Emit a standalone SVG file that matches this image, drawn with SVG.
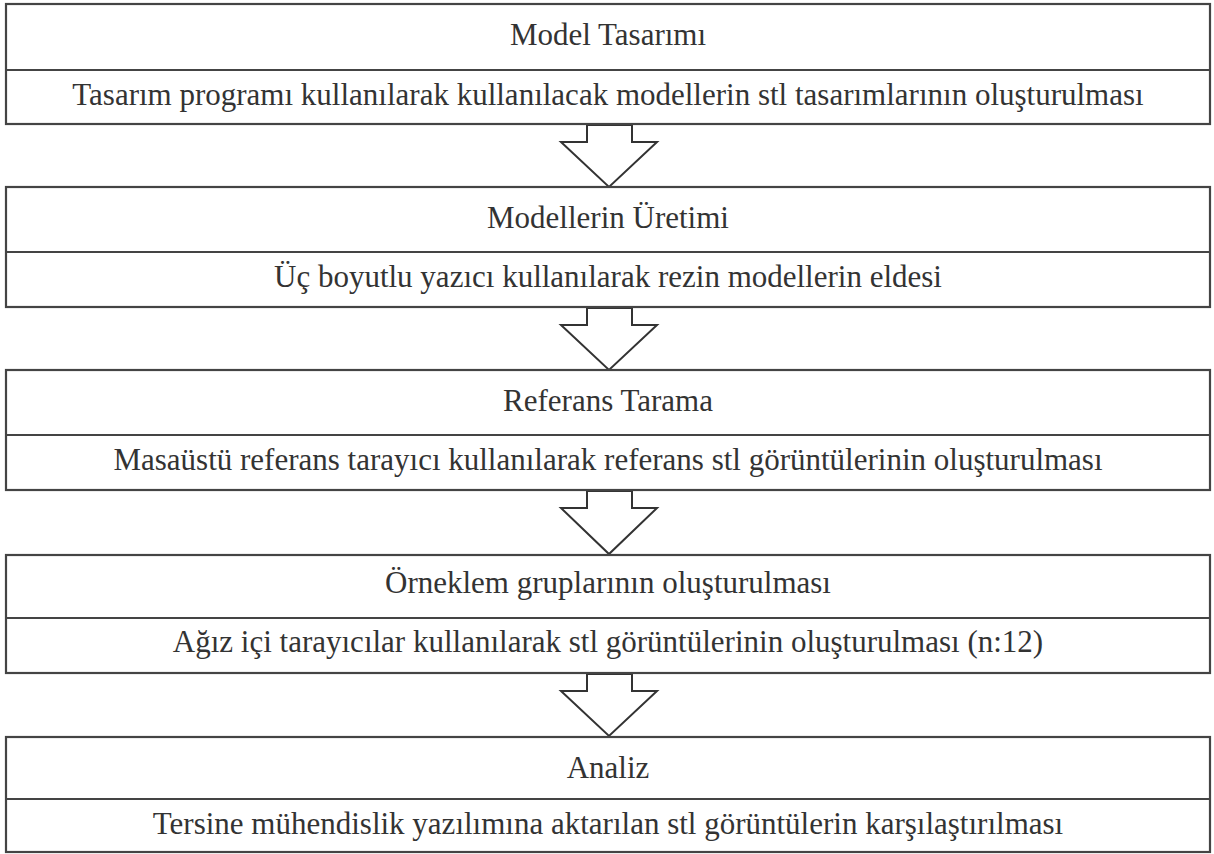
<svg xmlns="http://www.w3.org/2000/svg" width="1214" height="854" viewBox="0 0 1214 854">
<style>
.box{fill:#fff;stroke:#444;stroke-width:2.2}
.div{stroke:#444;stroke-width:2}
.t{font-family:"Liberation Serif","Times New Roman",serif;font-size:31px;fill:#333;text-anchor:middle}
.arr{fill:#fff;stroke:#333;stroke-width:2;stroke-linejoin:miter}
</style>
<rect width="1214" height="854" fill="#fff"/>
<g id="connectors">
<polygon class="arr" points="587,125 632,125 632,142 657,142 609,187 561,142 587,142"/>
<polygon class="arr" points="587,308 632,308 632,325 657,325 609,370 561,325 587,325"/>
<polygon class="arr" points="587,491 632,491 632,508 657,508 609,554 561,508 587,508"/>
<polygon class="arr" points="587,674 632,674 632,691 657,691 609,736 561,691 587,691"/>
</g>
<g id="node1">
<rect class="box" x="6" y="4" width="1204" height="120"/>
<line class="div" x1="6" y1="70" x2="1210" y2="70"/>
<text class="t" x="608" y="45">Model Tasarımı</text>
<text class="t" x="608" y="105">Tasarım programı kullanılarak kullanılacak modellerin stl tasarımlarının oluşturulması</text>
</g>
<g id="node2">
<rect class="box" x="6" y="187" width="1204" height="120"/>
<line class="div" x1="6" y1="252" x2="1210" y2="252"/>
<text class="t" x="608" y="228">Modellerin Üretimi</text>
<text class="t" x="608" y="287">Üç boyutlu yazıcı kullanılarak rezin modellerin eldesi</text>
</g>
<g id="node3">
<rect class="box" x="6" y="370" width="1204" height="120"/>
<line class="div" x1="6" y1="435" x2="1210" y2="435"/>
<text class="t" x="608" y="411">Referans Tarama</text>
<text class="t" x="608" y="470">Masaüstü referans tarayıcı kullanılarak referans stl görüntülerinin oluşturulması</text>
</g>
<g id="node4">
<rect class="box" x="6" y="555" width="1204" height="118"/>
<line class="div" x1="6" y1="618" x2="1210" y2="618"/>
<text class="t" x="608" y="593">Örneklem gruplarının oluşturulması</text>
<text class="t" x="608" y="652">Ağız içi tarayıcılar kullanılarak stl görüntülerinin oluşturulması (n:12)</text>
</g>
<g id="node5">
<rect class="box" x="6" y="737" width="1204" height="115"/>
<line class="div" x1="6" y1="799" x2="1210" y2="799"/>
<text class="t" x="608" y="778">Analiz</text>
<text class="t" x="608" y="834">Tersine mühendislik yazılımına aktarılan stl görüntülerin karşılaştırılması</text>
</g>
</svg>
